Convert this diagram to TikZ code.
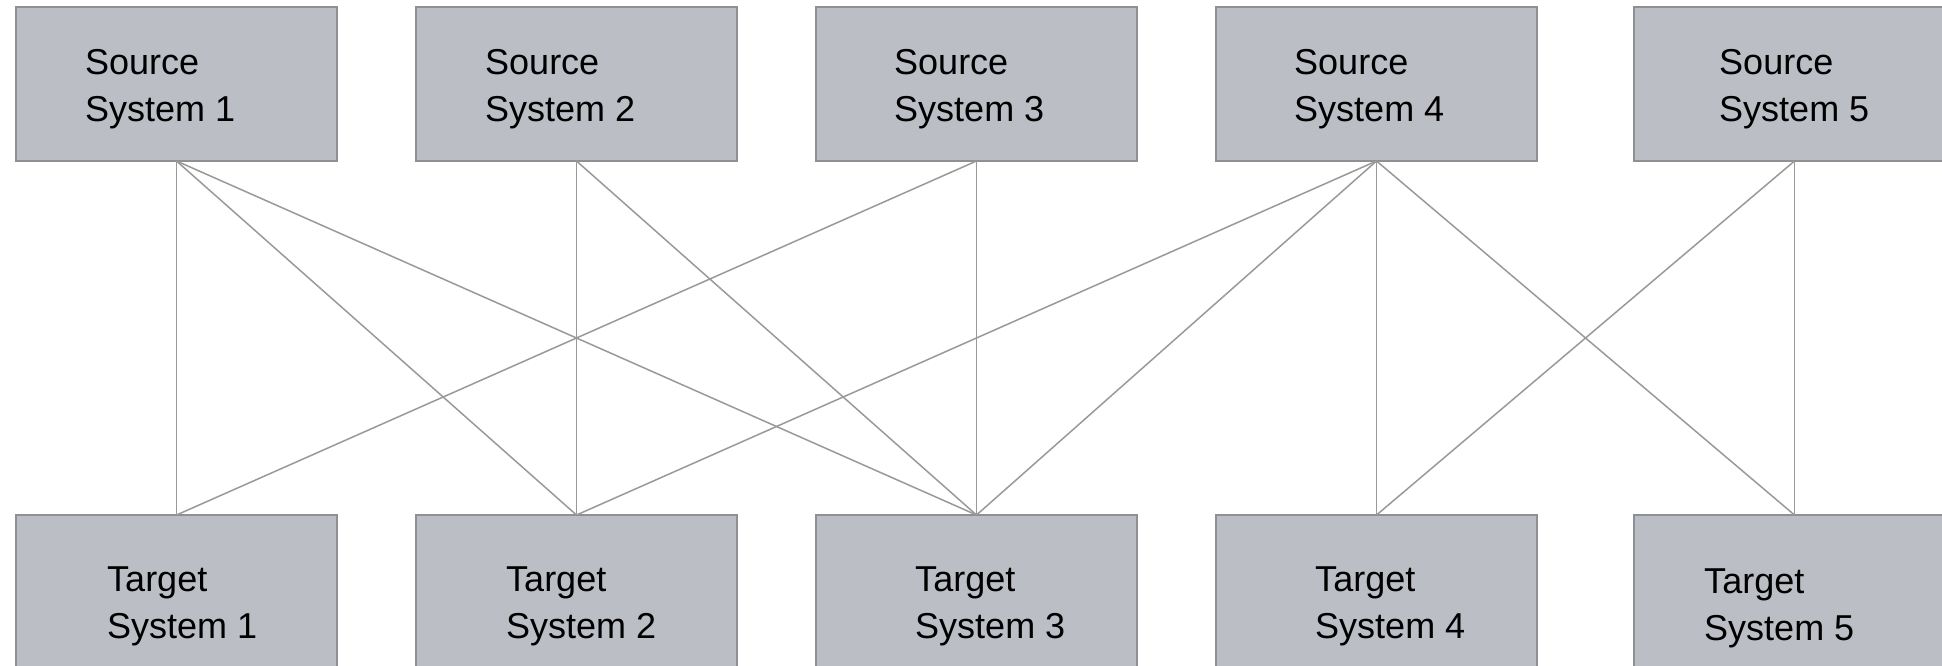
\documentclass[tikz,border=0pt]{standalone}
\usepackage{fontspec}
\setmainfont{Liberation Sans}
\definecolor{boxfill}{HTML}{BBBEC5}
\definecolor{boxline}{HTML}{8E9096}
\definecolor{linkline}{HTML}{999999}
\begin{document}
\begin{tikzpicture}[x=1pt,y=-1pt,
  sysbox/.style={draw=boxline, line width=1.5pt, fill=boxfill, minimum width=321pt,
                 minimum height=154pt, inner sep=0pt, outer sep=0pt},
  systext/.style={anchor=west, align=left, inner sep=0pt,
                  font=\fontsize{36}{47}\selectfont},
  link/.style={draw=linkline, line width=1.5pt}]
  \useasboundingbox (0,0) rectangle (1942,666);
  \begin{scope}
    \clip (0,0) rectangle (1942,666);
    % source systems (top row)
    \node[sysbox] (s1) at (176.5,84) {};
    \node[sysbox] (s2) at (576.5,84) {};
    \node[sysbox] (s3) at (976.5,84) {};
    \node[sysbox] (s4) at (1376.5,84) {};
    \node[sysbox] (s5) at (1794.5,84) {};
    % target systems (bottom row)
    \node[sysbox] (t1) at (176.5,592) {};
    \node[sysbox] (t2) at (576.5,592) {};
    \node[sysbox] (t3) at (976.5,592) {};
    \node[sysbox] (t4) at (1376.5,592) {};
    \node[sysbox] (t5) at (1794.5,592) {};
  \end{scope}
  % labels
  \node[systext] (s1l) at ([xshift=69pt,yshift=-5pt]s1.west) {Source\\System 1};
  \node[systext] (s2l) at ([xshift=69pt,yshift=-5pt]s2.west) {Source\\System 2};
  \node[systext] (s3l) at ([xshift=78pt,yshift=-5pt]s3.west) {Source\\System 3};
  \node[systext] (s4l) at ([xshift=78pt,yshift=-5pt]s4.west) {Source\\System 4};
  \node[systext] (s5l) at ([xshift=85pt,yshift=-5pt]s5.west) {Source\\System 5};
  \node[systext] (t1l) at ([xshift=91pt,yshift=-14pt]t1.west) {Target\\System 1};
  \node[systext] (t2l) at ([xshift=90pt,yshift=-14pt]t2.west) {Target\\System 2};
  \node[systext] (t3l) at ([xshift=99pt,yshift=-14pt]t3.west) {Target\\System 3};
  \node[systext] (t4l) at ([xshift=99pt,yshift=-14pt]t4.west) {Target\\System 4};
  \node[systext] (t5l) at ([xshift=70pt,yshift=-16pt]t5.west) {Target\\System 5};
  % connections
  \draw[link] (s1.south) -- (t1.north);
  \draw[link] (s1.south) -- (t2.north);
  \draw[link] (s1.south) -- (t3.north);
  \draw[link] (s2.south) -- (t2.north);
  \draw[link] (s2.south) -- (t3.north);
  \draw[link] (s3.south) -- (t1.north);
  \draw[link] (s3.south) -- (t3.north);
  \draw[link] (s4.south) -- (t2.north);
  \draw[link] (s4.south) -- (t3.north);
  \draw[link] (s4.south) -- (t4.north);
  \draw[link] (s4.south) -- (t5.north);
  \draw[link] (s5.south) -- (t4.north);
  \draw[link] (s5.south) -- (t5.north);
\end{tikzpicture}
\end{document}
